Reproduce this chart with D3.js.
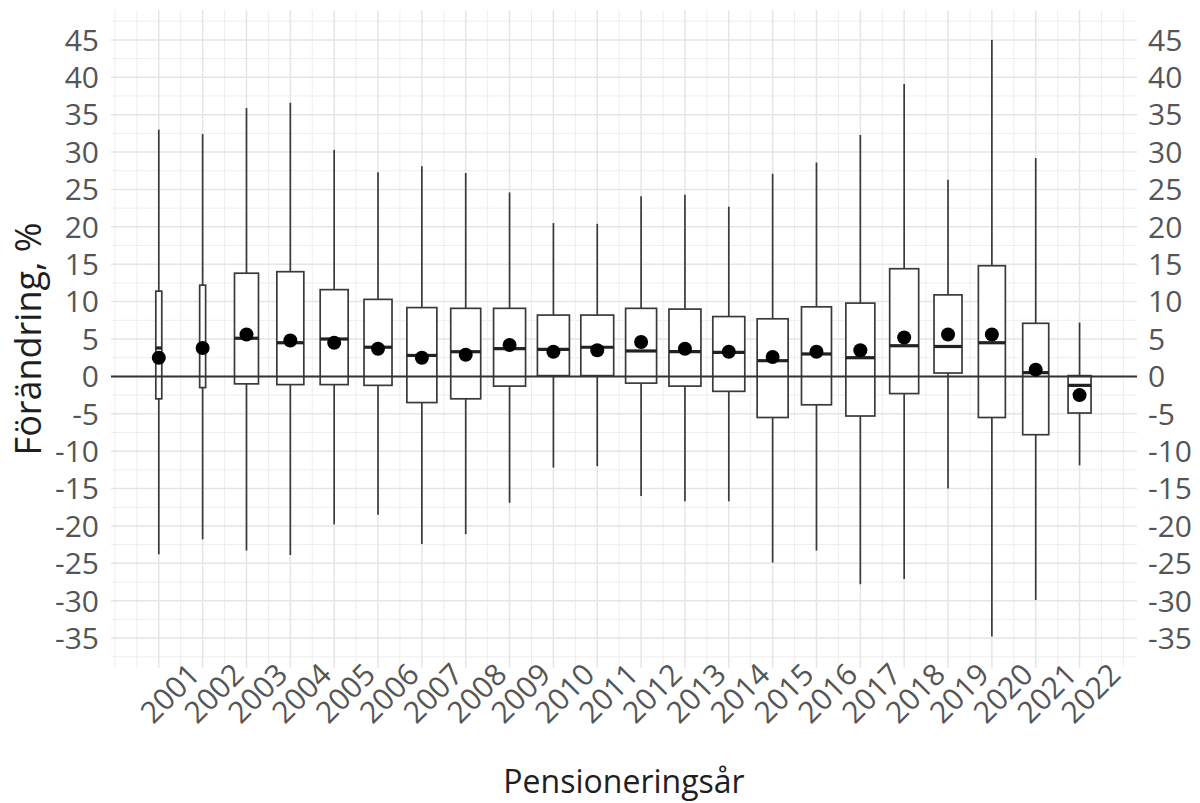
<!DOCTYPE html>
<html lang="sv">
<head>
<meta charset="utf-8">
<script src="https://cdn.jsdelivr.net/npm/d3@7"></script>
<style>
  html, body { margin: 0; padding: 0; background: #fff; }
  svg { display: block; font-family: "Open Sans", "Noto Sans", sans-serif; }
</style>
</head>
<body>
<svg id="chart" width="1200" height="803"></svg>
<script>
// Förändring i procent per pensioneringsår: lådagram med medelvärde
const years      = [2001, 2002, 2003, 2004, 2005, 2006, 2007, 2008, 2009, 2010, 2011,
                    2012, 2013, 2014, 2015, 2016, 2017, 2018, 2019, 2020, 2021, 2022];
const whiskerLow = [-23.8, -21.8, -23.3, -23.9, -19.8, -18.5, -22.4, -21.1, -16.9, -12.2, -12.0,
                    -16.0, -16.7, -16.7, -24.9, -23.3, -27.8, -27.1, -15.0, -34.8, -29.9, -11.9];
const q1         = [-3.0, -1.5, -1.0, -1.1, -1.1, -1.2, -3.5, -3.0, -1.3, 0.1, 0.1,
                    -0.9, -1.3, -2.0, -5.5, -3.8, -5.3, -2.3, 0.45, -5.5, -7.8, -4.9];
const medians    = [3.8, 3.8, 5.1, 4.5, 5.0, 3.9, 2.8, 3.3, 3.7, 3.6, 3.9,
                    3.4, 3.3, 3.2, 2.1, 3.0, 2.5, 4.1, 4.0, 4.5, 0.5, -1.2];
const q3         = [11.4, 12.2, 13.8, 14.0, 11.6, 10.3, 9.2, 9.1, 9.1, 8.2, 8.2,
                    9.1, 9.0, 8.0, 7.7, 9.3, 9.8, 14.4, 10.9, 14.8, 7.1, 0.1];
const whiskerHigh= [33.0, 32.4, 35.9, 36.6, 30.3, 27.3, 28.1, 27.2, 24.6, 20.5, 20.4,
                    24.1, 24.3, 22.7, 27.1, 28.6, 32.3, 39.1, 26.3, 45.0, 29.2, 7.2];
const means      = [2.5, 3.8, 5.6, 4.8, 4.5, 3.7, 2.5, 2.9, 4.2, 3.3, 3.5,
                    4.6, 3.7, 3.3, 2.6, 3.3, 3.5, 5.2, 5.6, 5.6, 0.9, -2.5];
// Gruppstorlek i förhållande till största året (styr lådornas bredd)
const relativeCount = [0.033, 0.033, 0.532, 0.673, 0.724, 0.724, 0.831, 0.831, 0.946, 0.946, 1.0,
                       0.888, 0.946, 0.946, 0.888, 0.831, 0.777, 0.777, 0.724, 0.673, 0.625, 0.489];
const yTicks = [-35, -30, -25, -20, -15, -10, -5, 0, 5, 10, 15, 20, 25, 30, 35, 40, 45];

const rows = years.map((yr, i) => ({
  year: yr, lo: whiskerLow[i], q1: q1[i], med: medians[i], q3: q3[i],
  hi: whiskerHigh[i], mean: means[i], rel: relativeCount[i]
}));

const svg = d3.select("#chart");
const panel = { left: 111, right: 1137, top: 10, bottom: 668 };

const x = d3.scaleLinear().domain([1999.91, 2023.31]).range([panel.left, panel.right]);
const y = d3.scaleLinear().domain([-39, 49]).range([panel.bottom, panel.top]);
const step = x(1) - x(0);
const maxBoxWidth = 0.75 * step;

// Rutnät
const grid = svg.append("g");
const vMinor = d3.range(2000, 2023.01, 0.5).filter(v => !years.includes(v));
grid.selectAll(".vminor").data(vMinor).join("line")
  .attr("x1", d => x(d)).attr("x2", d => x(d))
  .attr("y1", panel.top).attr("y2", panel.bottom)
  .attr("stroke", "#eeeeee").attr("stroke-width", 1);
const hMinor = d3.range(-37.5, 48, 5);
grid.selectAll(".hminor").data(hMinor).join("line")
  .attr("x1", panel.left).attr("x2", panel.right)
  .attr("y1", d => y(d)).attr("y2", d => y(d))
  .attr("stroke", "#eeeeee").attr("stroke-width", 1);
grid.selectAll(".vmajor").data(years).join("line")
  .attr("x1", d => x(d)).attr("x2", d => x(d))
  .attr("y1", panel.top).attr("y2", panel.bottom)
  .attr("stroke", "#e5e5e5").attr("stroke-width", 1.5);
grid.selectAll(".hmajor").data(yTicks).join("line")
  .attr("x1", panel.left).attr("x2", panel.right)
  .attr("y1", d => y(d)).attr("y2", d => y(d))
  .attr("stroke", "#e5e5e5").attr("stroke-width", 1.5);

// Lådagram
const boxes = svg.append("g");
const stroke = "#3a3a3a";
const g = boxes.selectAll("g.box").data(rows).join("g").attr("class", "box");
g.append("line")
  .attr("x1", d => x(d.year)).attr("x2", d => x(d.year))
  .attr("y1", d => y(d.hi)).attr("y2", d => y(d.q3))
  .attr("stroke", stroke).attr("stroke-width", 1.7);
g.append("line")
  .attr("x1", d => x(d.year)).attr("x2", d => x(d.year))
  .attr("y1", d => y(d.q1)).attr("y2", d => y(d.lo))
  .attr("stroke", stroke).attr("stroke-width", 1.7);
g.append("rect")
  .attr("x", d => x(d.year) - maxBoxWidth * Math.sqrt(d.rel) / 2)
  .attr("width", d => maxBoxWidth * Math.sqrt(d.rel))
  .attr("y", d => y(d.q3))
  .attr("height", d => y(d.q1) - y(d.q3))
  .attr("fill", "#fff").attr("stroke", stroke).attr("stroke-width", 1.7);
g.append("line")
  .attr("x1", d => x(d.year) - maxBoxWidth * Math.sqrt(d.rel) / 2)
  .attr("x2", d => x(d.year) + maxBoxWidth * Math.sqrt(d.rel) / 2)
  .attr("y1", d => y(d.med)).attr("y2", d => y(d.med))
  .attr("stroke", "#222").attr("stroke-width", 3.2);

// Nollinje
svg.append("line")
  .attr("x1", panel.left).attr("x2", panel.right)
  .attr("y1", y(0)).attr("y2", y(0))
  .attr("stroke", "#333").attr("stroke-width", 2);

// Medelvärden
svg.append("g").selectAll("circle").data(rows).join("circle")
  .attr("cx", d => x(d.year)).attr("cy", d => y(d.mean))
  .attr("r", 7).attr("fill", "#000");

// Axeltexter
const tickColor = "#555";
const yl = svg.append("g").attr("font-size", 30).attr("fill", tickColor);
yl.selectAll(".l").data(yTicks).join("text")
  .attr("x", panel.left - 12).attr("y", d => y(d))
  .attr("dy", "0.36em").attr("text-anchor", "end").text(d => d);
yl.selectAll(".r").data(yTicks).join("text")
  .attr("x", panel.right + 11).attr("y", d => y(d))
  .attr("dy", "0.36em").attr("text-anchor", "start").text(d => d);

svg.append("g").attr("font-size", 30).attr("fill", tickColor)
  .selectAll("text").data(years).join("text")
  .attr("transform", d => `translate(${x(d) + 11},${693}) rotate(-45)`)
  .attr("text-anchor", "middle").attr("dy", "0.36em")
  .text(d => d);

svg.append("text")
  .attr("x", (panel.left + panel.right) / 2).attr("y", 793)
  .attr("text-anchor", "middle").attr("font-size", 32).attr("fill", "#1e1e1e")
  .text("Pensioneringsår");

svg.append("text")
  .attr("transform", `translate(41,${(panel.top + panel.bottom) / 2}) rotate(-90)`)
  .attr("text-anchor", "middle").attr("font-size", 36).attr("fill", "#1e1e1e")
  .text("Förändring, %");
</script>
</body>
</html>
